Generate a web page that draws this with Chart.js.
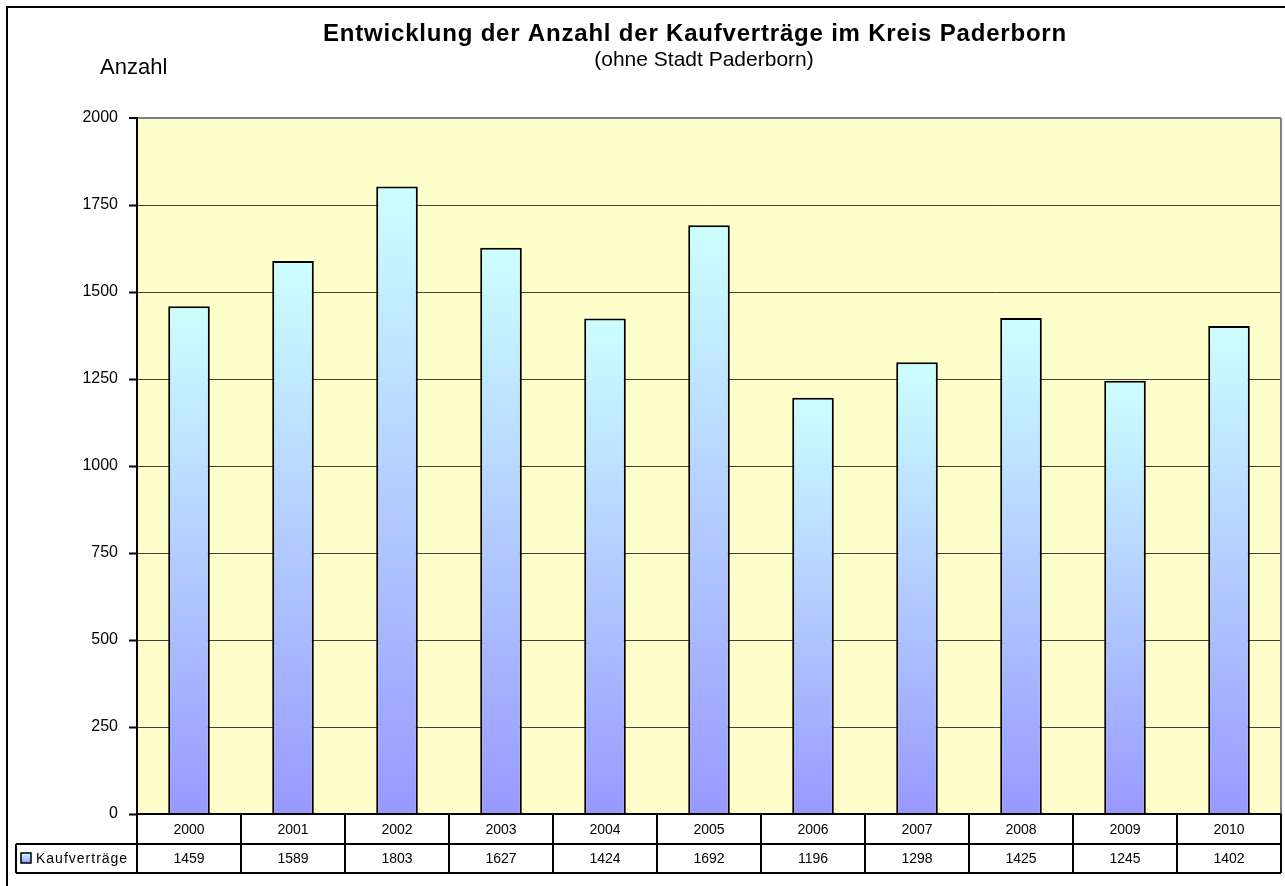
<!DOCTYPE html>
<html>
<head>
<meta charset="utf-8">
<script src="https://cdn.jsdelivr.net/npm/chart.js@4/dist/chart.umd.min.js"></script>
<style>
  body { margin: 0; background: #fff; }
  #wrap { width: 1285px; height: 886px; }
</style>
</head>
<body>
<div id="wrap"><canvas id="chart" width="1285" height="886"></canvas></div>
<script>
const years = ['2000', '2001', '2002', '2003', '2004', '2005', '2006', '2007', '2008', '2009', '2010'];
const kaufvertraege = [1459, 1589, 1803, 1627, 1424, 1692, 1196, 1298, 1425, 1245, 1402];
const yTicks = [0, 250, 500, 750, 1000, 1250, 1500, 1750, 2000];
const seriesName = 'Kaufverträge';
const title = 'Entwicklung der Anzahl der Kaufverträge im Kreis Paderborn';
const subtitle = '(ohne Stadt Paderborn)';
const yTitle = 'Anzahl';

const FONT = 'Arial, "Liberation Sans", sans-serif';

function barGradient(ctx, top, bottom) {
    const g = ctx.createLinearGradient(0, top, 0, bottom);
    g.addColorStop(0, '#CCFFFF');
    g.addColorStop(1, '#9999FF');
    return g;
}

// background, data table, titles and frame
const excelLook = {
    id: 'excelLook',
    beforeDraw(chart) {
        const { ctx, chartArea: a } = chart;
        ctx.save();
        ctx.fillStyle = '#fff';
        ctx.fillRect(0, 0, chart.width, chart.height);
        ctx.fillStyle = '#FFFFCC';
        ctx.fillRect(a.left, a.top, a.right - a.left, a.bottom - a.top);
        ctx.restore();
    },
    afterDraw(chart) {
        const { ctx, chartArea: a } = chart;
        const x = chart.scales.x;
        const colW = x.getPixelForValue(1) - x.getPixelForValue(0);
        const row1 = a.bottom, row2 = a.bottom + 30, row3 = a.bottom + 59;
        const legendLeft = 16;
        ctx.save();

        // right plot border
        ctx.strokeStyle = '#808080';
        ctx.lineWidth = 2;
        ctx.beginPath();
        ctx.moveTo(a.right, a.top);
        ctx.lineTo(a.right, a.bottom);
        ctx.stroke();

        // table lines
        ctx.strokeStyle = '#000';
        ctx.lineWidth = 2;
        ctx.beginPath();
        ctx.moveTo(a.left, row1); ctx.lineTo(a.right, row1);
        ctx.moveTo(legendLeft, row2); ctx.lineTo(a.right, row2);
        ctx.moveTo(legendLeft, row3); ctx.lineTo(a.right, row3);
        ctx.moveTo(legendLeft, row2); ctx.lineTo(legendLeft, row3);
        ctx.moveTo(a.left, row1); ctx.lineTo(a.left, row3);
        years.forEach((y, i) => {
            const r = x.getPixelForValue(i) + colW / 2;
            ctx.moveTo(r, row1); ctx.lineTo(r, row3);
        });
        ctx.stroke();

        // table text
        ctx.fillStyle = '#000';
        ctx.font = '14px ' + FONT;
        ctx.textAlign = 'center';
        ctx.textBaseline = 'middle';
        years.forEach((y, i) => {
            const cx = x.getPixelForValue(i);
            ctx.fillText(y, cx, (row1 + row2) / 2 + 1);
            ctx.fillText(String(kaufvertraege[i]), cx, (row2 + row3) / 2 + 1);
        });

        // legend key
        ctx.fillStyle = barGradient(ctx, row2 + 9, row2 + 19);
        ctx.fillRect(21, row2 + 9, 10, 10);
        ctx.lineWidth = 1.5;
        ctx.strokeRect(21, row2 + 9, 10, 10);
        ctx.fillStyle = '#000';
        ctx.textAlign = 'left';
        ctx.letterSpacing = '1px';
        ctx.fillText(seriesName, 36, (row2 + row3) / 2 + 1);

        // titles
        ctx.textBaseline = 'alphabetic';
        ctx.textAlign = 'center';
        ctx.font = 'bold 24px ' + FONT;
        ctx.letterSpacing = '0.8px';
        ctx.fillText(title, 695, 41);
        ctx.letterSpacing = '0px';
        ctx.font = '21px ' + FONT;
        ctx.fillText(subtitle, 704, 66);
        ctx.textAlign = 'left';
        ctx.font = '22px ' + FONT;
        ctx.fillText(yTitle, 100, 74);

        // outer frame
        ctx.lineWidth = 2;
        ctx.strokeStyle = '#000';
        ctx.beginPath();
        ctx.moveTo(7, chart.height);
        ctx.lineTo(7, 7);
        ctx.lineTo(chart.width, 7);
        ctx.stroke();
        ctx.restore();
    }
};

new Chart(document.getElementById('chart'), {
    type: 'bar',
    data: {
        labels: years,
        datasets: [{
            label: seriesName,
            data: kaufvertraege,
            backgroundColor(c) {
                const chart = c.chart;
                if (!chart.chartArea) return '#9999FF';
                const y = chart.scales.y;
                return barGradient(chart.ctx, y.getPixelForValue(c.raw), y.getPixelForValue(0));
            },
            borderColor: '#000',
            borderWidth: 2,
            borderSkipped: 'bottom',
            barPercentage: 0.8,
            categoryPercentage: 0.5
        }]
    },
    plugins: [excelLook],
    options: {
        responsive: false,
        animation: false,
        layout: { padding: { top: 118, right: 4, bottom: 72, left: 0 } },
        plugins: {
            legend: { display: false },
            title: { display: false },
            tooltip: { enabled: false }
        },
        scales: {
            x: { display: false },
            y: {
                min: 0,
                max: 2000,
                afterFit(scale) { scale.width = 137; },
                afterBuildTicks(scale) { scale.ticks = yTicks.map(v => ({ value: v })); },
                ticks: {
                    color: '#000',
                    font: { family: FONT, size: 16 },
                    padding: 11,
                    callback: (v) => String(v)
                },
                grid: {
                    color: (c) => c.tick && c.tick.value === 2000 ? '#808080' : '#404040',
                    lineWidth: (c) => c.tick && c.tick.value === 2000 ? 2 : 1,
                    tickColor: '#000',
                    tickLength: 8,
                    tickWidth: 2
                },
                border: { display: true, color: '#000', width: 2 }
            }
        }
    }
});
</script>
</body>
</html>
